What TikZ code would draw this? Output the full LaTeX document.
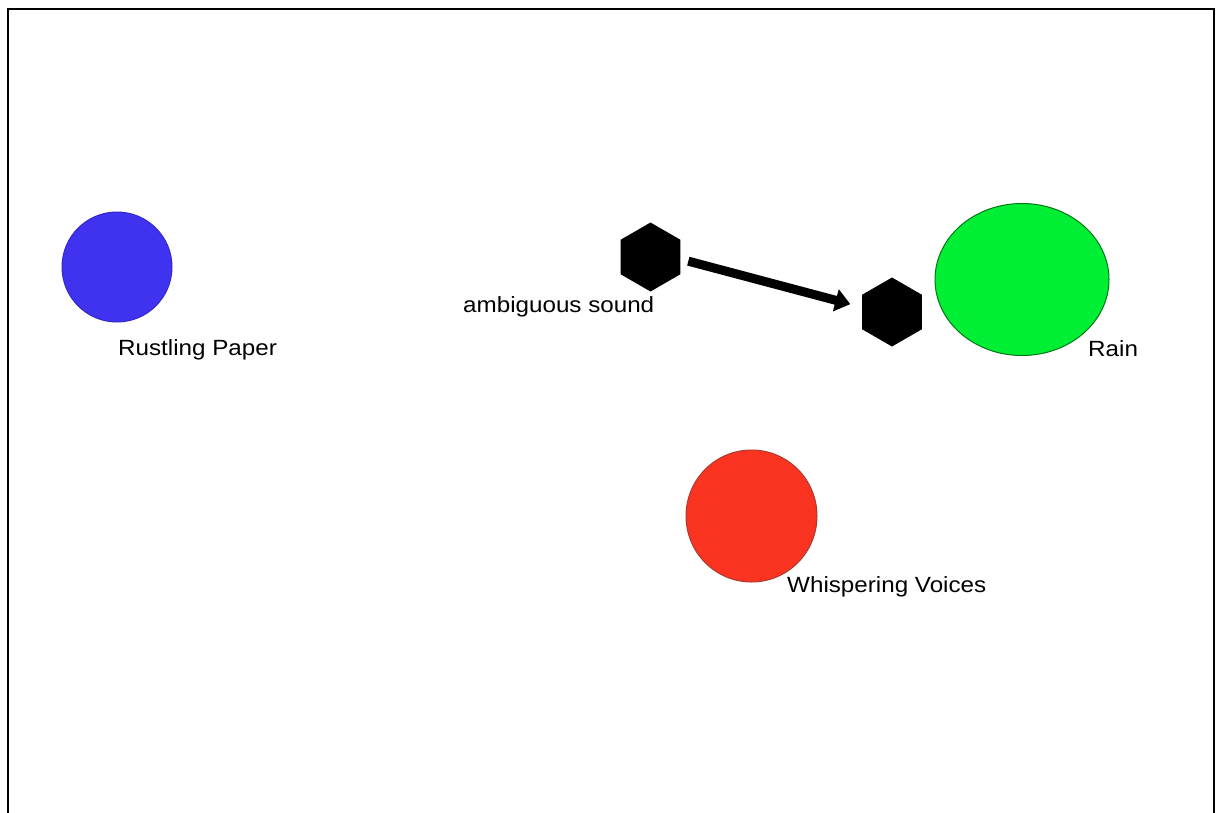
\documentclass[tikz,border=0pt]{standalone}
\usepackage{fontspec}
\setmainfont{Liberation Sans}
\newfontfamily\lblfont[FakeStretch=1.1]{Liberation Sans}
\usetikzlibrary{shapes.geometric,arrows.meta}
\definecolor{bluefill}{RGB}{64,51,240}
\definecolor{blueline}{RGB}{50,40,200}
\definecolor{greenfill}{RGB}{0,238,52}
\definecolor{greenline}{RGB}{0,120,20}
\definecolor{redfill}{RGB}{250,52,32}
\definecolor{redline}{RGB}{170,60,50}
\tikzset{
  lbl/.style={anchor=base west, inner sep=0pt, font=\lblfont\fontsize{22}{24}\selectfont, text=black},
  hexnode/.style={regular polygon, regular polygon sides=6, shape border rotate=30, minimum size=69pt, inner sep=0pt, fill=black, draw=none},
  blob/.style={ellipse, inner sep=0pt, line width=1pt},
  frame/.style={line width=2pt, draw=black}
}
\begin{document}
\begin{tikzpicture}[x=1pt,y=-1pt]
\useasboundingbox (0,0) rectangle (1216,812);
\fill[white] (0,0) rectangle (1216,812);
\draw[frame] (8,830) -- (8,9) -- (1214,9) -- (1214,830);

\node[blob, fill=bluefill, draw=blueline, minimum width=110pt, minimum height=110pt] (paper) at (117,267) {};
\node[lbl] (paperlbl) at (118,355) {Rustling Paper};

\node[blob, fill=greenfill, draw=greenline, minimum width=174pt, minimum height=152pt] (rain) at (1022,279.5) {};
\node[lbl] (rainlbl) at (1088,356) {Rain};

\node[blob, fill=redfill, draw=redline, minimum width=131pt, minimum height=132pt] (voices) at (751.5,516) {};
\node[lbl] (voiceslbl) at (787,592) {Whispering Voices};

\node[hexnode] (h1) at (650.5,257) {};
\node[hexnode] (h2) at (892,312) {};
\node[lbl] (h1lbl) at (463,312) {ambiguous sound};

\draw[line width=9pt, -{Triangle[length=15pt,width=22pt]}, shorten <=8pt, shorten >=12pt] (h1.-4) -- (h2.171);
\end{tikzpicture}
\end{document}
